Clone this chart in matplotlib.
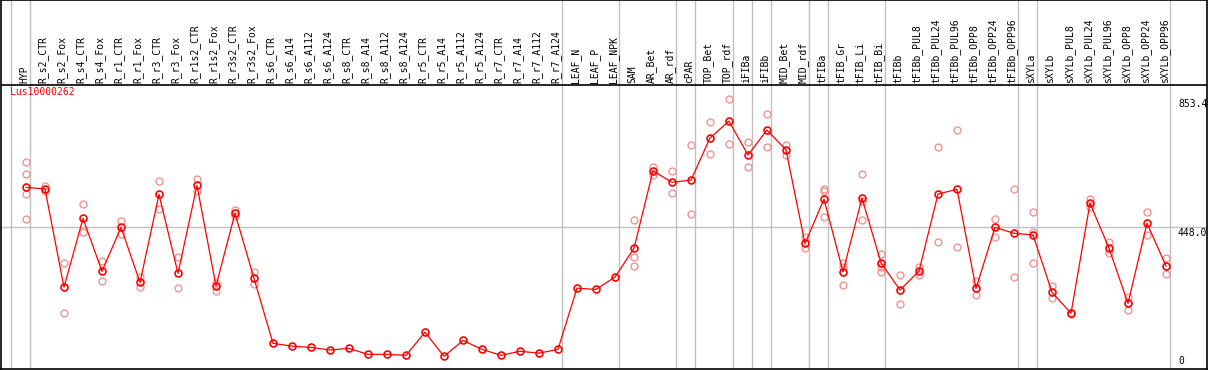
import matplotlib
matplotlib.use("Agg")
import matplotlib.pyplot as plt

# Amostras (eixo x)
amostras = [
    "HYP", "R_s2_CTR", "R_s2_Fox", "R_s4_CTR", "R_s4_Fox", "R_r1_CTR", "R_r1_Fox",
    "R_r3_CTR", "R_r3_Fox", "R_r1s2_CTR", "R_r1s2_Fox", "R_r3s2_CTR", "R_r3s2_Fox",
    "R_s6_CTR", "R_s6_A14", "R_s6_A112", "R_s6_A124", "R_s8_CTR", "R_s8_A14",
    "R_s8_A112", "R_s8_A124", "R_r5_CTR", "R_r5_A14", "R_r5_A112", "R_r5_A124",
    "R_r7_CTR", "R_r7_A14", "R_r7_A112", "R_r7_A124", "LEAF_N", "LEAF_P", "LEAF_NPK",
    "SAM", "AR_Bet", "AR_rdf", "cPAR", "TOP_Bet", "TOP_rdf", "iFIBa", "iFIBb",
    "MID_Bet", "MID_rdf", "tFIBa", "tFIB_Gr", "tFIB_Li", "tFIB_Bi", "tFIBb",
    "tFIBb_PUL8", "tFIBb_PUL24", "tFIBb_PUL96", "tFIBb_OPP8", "tFIBb_OPP24",
    "tFIBb_OPP96", "sXYLa", "sXYLb", "sXYLb_PUL8", "sXYLb_PUL24", "sXYLb_PUL96",
    "sXYLb_OPP8", "sXYLb_OPP24", "sXYLb_OPP96",
]

# Media por amostra
medias = [
    573, 568, 258, 475, 308, 447, 273, 551, 302, 579, 262, 491, 286,
    81, 72, 68, 60, 65, 46, 46, 43, 116, 40, 90, 62, 43, 56, 50, 62,
    255, 251, 290,
    381, 625, 589, 596, 729, 782, 675, 754, 691, 396, 536, 307, 539, 335,
    249, 309, 552, 567, 254, 447, 428, 423, 242, 176, 523, 381, 207, 460, 325,
]

# Replicatas (vazio = nao visivel)
replicatas = [
    [652, 614, 551, 472], [577, 561], [335, 176], [520, 431], [341, 277],
    [467, 427], [291, 260], [592, 506], [352, 255], [598, 561], [272, 247],
    [502, 483], [307, 267],
    [], [], [], [], [], [], [], [], [], [], [], [], [], [], [], [],
    [], [], [],
    [470, 352, 326], [638, 612], [625, 554], [707, 488], [779, 678], [853.4, 709],
    [716, 636], [804, 700], [708, 675], [417, 381], [567, 479, 562], [335, 265, 322],
    [614, 530, 470], [363, 321, 307],
    [297, 205], [321, 297], [699, 402], [753, 384], [279, 233], [472, 417],
    [567, 289], [494, 433, 333], [262, 223], [178, 174], [536, 510], [400, 365],
    [226, 186], [494, 423], [349, 299],
]

# Separadores de grupos (indice da amostra antes da linha)
separadores = [-1, 0, 28, 31, 34, 35, 37, 38, 39, 41, 42, 45, 52, 53, 60]

nome_gene = "Lus10000262"
ymax_plot = 896.0
rotulos_y = [853.4, 448.0, 0]

W, H = 1209, 370
fig = plt.figure(figsize=(W / 100, H / 100), dpi=100)
ax = fig.add_axes([1 / W, 1 / H, 1206 / W, 369 / H])

escala = 284 / ymax_plot  # px por unidade
ax.set_ylim(0, 369 / escala)
ax.set_xlim((1 - 26) / 19, (1207 - 26) / 19)
ax.set_xticks([])
ax.set_yticks([])
for s in ax.spines.values():
    s.set_color("black")
    s.set_linewidth(1.2)

fonte = dict(family="DejaVu Sans Mono", fontsize=7)

# Grade
for i in separadores:
    ax.axvline(i + 0.22, color="#c0c0c0", lw=1, zorder=1)
ax.axhline(ymax_plot / 2, color="#c0c0c0", lw=1, zorder=1)
ax.axhline(ymax_plot, color="black", lw=1.2, zorder=2)

# Rotulos das amostras
y_rot = (369 - 83) / escala
for i, nome in enumerate(amostras):
    ax.text(i - 0.1, y_rot, nome, rotation=90, ha="center", va="bottom", color="black", **fonte)

# Replicatas
xs, ys = [], []
for i, reps in enumerate(replicatas):
    for v in reps:
        xs.append(i)
        ys.append(v)
ax.plot(xs, ys, linestyle="none", marker="o", ms=5, mfc="none", mec="#f09494", mew=1, zorder=3)

# Media
ax.plot(range(len(amostras)), medias, color="red", lw=0.9, marker="o", ms=5,
        mfc="none", mec="red", mew=1.2, zorder=4)

# Textos
ax.text((10 - 26) / 19, (369 - 92) / escala, nome_gene, color="red", ha="left", va="center", **fonte)
x_lab = (1178 - 26) / 19
ax.text(x_lab, rotulos_y[0], f"{rotulos_y[0]:.1f}", ha="left", va="top", **fonte)
ax.text(x_lab, rotulos_y[1] - 4, f"{rotulos_y[1]:.1f}", ha="left", va="top", **fonte)
ax.text(x_lab, 8, "0", ha="left", va="bottom", **fonte)

fig.savefig("out.png", dpi=100)
plt.close(fig)
